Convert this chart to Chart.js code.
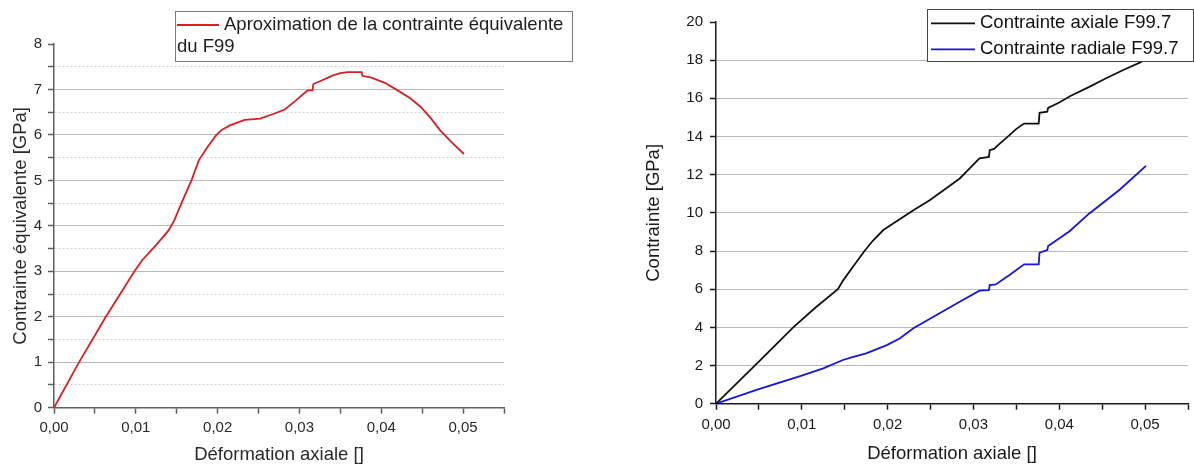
<!DOCTYPE html>
<html>
<head>
<meta charset="utf-8">
<title>Contrainte / déformation axiale</title>
<script src="https://cdn.jsdelivr.net/npm/chart.js@4/dist/chart.umd.min.js"></script>
<style>
  html, body { margin: 0; padding: 0; background: #fff; }
  .panel { position: absolute; top: 0; }
  #pLeft { left: 0; }
  #pRight { left: 600px; }
</style>
</head>
<body>
<div class="panel" id="pLeft"><canvas id="chartEq" width="600" height="466"></canvas></div>
<div class="panel" id="pRight"><canvas id="chartAxRad" width="594" height="466"></canvas></div>
<script>
// ---- data ----

// left: equivalent stress vs axial strain
const strainEq = [0, 0.003, 0.0063, 0.0098, 0.0108, 0.0125, 0.014, 0.0147, 0.0157, 0.0168,
  0.0177, 0.0187, 0.0198, 0.0205, 0.0215, 0.0233, 0.0252, 0.0268, 0.0282, 0.0295,
  0.0308, 0.031, 0.0316, 0.0317, 0.0325, 0.0341, 0.035, 0.0359, 0.0376, 0.0377,
  0.0388, 0.0405, 0.042, 0.0435, 0.0448, 0.046, 0.0472, 0.0485, 0.0501]
const stressEq = [0, 0.98, 1.99, 2.99, 3.25, 3.58, 3.9, 4.12, 4.55, 5.0,
  5.44, 5.72, 5.99, 6.11, 6.21, 6.33, 6.36, 6.46, 6.56, 6.75,
  6.95, 6.98, 6.98, 7.12, 7.18, 7.31, 7.36, 7.38, 7.38, 7.3,
  7.26, 7.14, 6.98, 6.81, 6.62, 6.38, 6.1, 5.86, 5.58]

// right: axial stress
const strainAx = [0, 0.0049, 0.009, 0.0115, 0.0142, 0.0148, 0.016, 0.0173, 0.0183, 0.0195,
  0.021, 0.023, 0.0249, 0.0268, 0.0284, 0.0295, 0.0307, 0.0318, 0.0319, 0.0324,
  0.033, 0.0342, 0.035, 0.0359, 0.0376, 0.0377, 0.0386, 0.0387, 0.04, 0.0413,
  0.0435, 0.0454, 0.0474, 0.0495, 0.05]
const stressAx = [0, 2.17, 4.0, 5.0, 6.0, 6.45, 7.2, 8.0, 8.55, 9.1,
  9.55, 10.14, 10.66, 11.28, 11.8, 12.3, 12.85, 12.93, 13.28, 13.35,
  13.6, 14.07, 14.4, 14.68, 14.68, 15.24, 15.3, 15.5, 15.78, 16.12,
  16.6, 17.04, 17.47, 17.9, 18.02]

// right: radial stress
const strainRad = [0, 0.0049, 0.0098, 0.0125, 0.0148, 0.016, 0.0175, 0.0199, 0.0214, 0.023,
  0.0257, 0.0284, 0.0307, 0.0318, 0.0319, 0.0326, 0.0342, 0.0359, 0.0376, 0.0377,
  0.0386, 0.0387, 0.0412, 0.0435, 0.047, 0.0501]
const stressRad = [0, 0.75, 1.45, 1.85, 2.29, 2.45, 2.64, 3.07, 3.42, 3.95,
  4.65, 5.34, 5.92, 5.95, 6.21, 6.25, 6.74, 7.3, 7.3, 7.91,
  8.05, 8.26, 9.04, 9.97, 11.2, 12.46]

// legend / axis texts
const labelEq = ['Aproximation de la contrainte équivalente', 'du F99']
const labelAx = ['Contrainte axiale F99.7']
const labelRad = ['Contrainte radiale F99.7']
const xTitle = 'Déformation axiale []'
const yTitleEq = 'Contrainte équivalente [GPa]'
const yTitleAxRad = 'Contrainte [GPa]'

const FONT = '"Liberation Sans", Arial, sans-serif'
Chart.defaults.font.family = FONT

const toPoints = (xs, ys) => xs.map((x, i) => ({ x, y: ys[i] }))

// "0,01" style labels on every second tick only
const fmtStrain = (v) => {
  const k = Math.round(v * 1000)
  return k % 10 === 0 ? (k / 1000).toFixed(2).replace('.', ',') : ''
}

// legend drawn as a framed box, like the Origin export
const boxLegend = {
  id: 'boxLegend',
  afterDraw (chart, args, o) {
    const { ctx } = chart
    ctx.save()
    ctx.fillStyle = '#fff'
    ctx.fillRect(o.x, o.y, o.w, o.h)
    ctx.strokeStyle = o.borderColor
    ctx.lineWidth = 1
    ctx.strokeRect(o.x + 0.5, o.y + 0.5, o.w, o.h)
    ctx.font = o.font
    ctx.textBaseline = 'middle'
    ctx.fillStyle = o.textColor
    let y = o.firstY
    chart.data.datasets.forEach(ds => {
      const lines = Array.isArray(ds.label) ? ds.label : [ds.label]
      ctx.strokeStyle = ds.borderColor
      ctx.lineWidth = 1.8
      ctx.beginPath()
      ctx.moveTo(o.x + o.sampleFrom, y)
      ctx.lineTo(o.x + o.sampleTo, y)
      ctx.stroke()
      lines.forEach((t, i) => {
        ctx.fillText(t, i === 0 ? o.x + o.textX : o.x + o.wrapX, y)
        y += i < lines.length - 1 ? o.wrapGap : o.rowGap
      })
    })
    ctx.restore()
  }
}

/**
 * one Origin-like panel
 */
function makeChart (canvasId, datasets, cfg) {
  const ctx = document.getElementById(canvasId).getContext('2d')
  const hidden = 'rgba(0,0,0,0)'
  return new Chart(ctx, {
    type: 'scatter',
    data: { datasets },
    plugins: [boxLegend],
    options: {
      responsive: false,
      animation: false,
      devicePixelRatio: 1,
      layout: { padding: cfg.padding },
      plugins: {
        legend: { display: false },
        tooltip: { enabled: false },
        boxLegend: cfg.legend
      },
      scales: {
        x: {
          type: 'linear',
          min: 0,
          max: 0.055,
          afterFit: (s) => { s.height = cfg.xAxisHeight },
          ticks: {
            stepSize: 0.005,
            autoSkip: false,
            maxRotation: 0,
            padding: cfg.xTickPad,
            color: cfg.textColor,
            font: { size: 15 },
            callback: fmtStrain
          },
          grid: {
            drawOnChartArea: false,
            tickLength: 6,
            tickWidth: 1.5,
            tickColor: cfg.axisColor
          },
          border: { color: cfg.axisColor, width: 1.5 },
          title: {
            display: true,
            text: xTitle,
            color: cfg.textColor,
            font: { size: 18.5 },
            padding: { top: 0, bottom: cfg.xTitlePad }
          }
        },
        y: {
          min: 0,
          max: cfg.yMax,
          afterFit: (s) => { s.width = cfg.yAxisWidth },
          ticks: {
            stepSize: cfg.yStep,
            padding: cfg.yTickPad,
            color: cfg.textColor,
            font: { size: 15 },
            callback: (v) => (v % cfg.yMajor === 0 ? String(v) : '')
          },
          grid: {
            color: (c) => {
              const v = c.tick ? c.tick.value : null
              if (v == null || v === 0 || v === cfg.yMax) return hidden
              return v % cfg.yMajor === 0 ? '#b9b9b9' : '#d2d2d2'
            },
            lineWidth: 1,
            tickLength: 6,
            tickWidth: 1.5,
            tickColor: cfg.axisColor
          },
          border: {
            color: cfg.axisColor,
            width: 1.5,
            dash: (c) => (c.tick && c.tick.value % cfg.yMajor !== 0 ? [2, 2] : [])
          },
          title: {
            display: true,
            text: cfg.yTitle,
            color: cfg.textColor,
            font: { size: 18.5 },
            padding: { top: cfg.yTitlePad, bottom: 0 }
          }
        }
      }
    }
  })
}

const lineStyle = { showLine: true, pointRadius: 0, borderWidth: 1.8, tension: 0 }

// ---- left panel ----
makeChart('chartEq', [
  { ...lineStyle, label: labelEq, data: toPoints(strainEq, stressEq), borderColor: '#dc1e1e' }
], {
  padding: { left: 0, right: 96, top: 44, bottom: 0 },
  xAxisHeight: 58.3,
  yAxisWidth: 54,
  yMax: 8,
  yStep: 0.5,
  yMajor: 1,
  xTickPad: 5,
  yTickPad: 6,
  xTitlePad: 0,
  yTitlePad: 9.6,
  yTitle: yTitleEq,
  axisColor: '#5f5f5f',
  textColor: '#2a2a2a',
  legend: {
    x: 175, y: 11, w: 397, h: 50,
    sampleFrom: 2, sampleTo: 44, textX: 49, wrapX: 2,
    firstY: 25, wrapGap: 21.7, rowGap: 26,
    font: '18.5px ' + FONT, textColor: '#1e1e1e', borderColor: '#7a7a7a'
  }
})

// ---- right panel ----
makeChart('chartAxRad', [
  { ...lineStyle, label: labelAx, data: toPoints(strainAx, stressAx), borderColor: '#111111' },
  { ...lineStyle, label: labelRad, data: toPoints(strainRad, stressRad), borderColor: '#1414e6' }
], {
  padding: { left: 0, right: 5, top: 22, bottom: 0 },
  xAxisHeight: 62.3,
  yAxisWidth: 116,
  yMax: 20,
  yStep: 1,
  yMajor: 2,
  xTickPad: 6,
  yTickPad: 7,
  xTitlePad: 1,
  yTitlePad: 42.8,
  yTitle: yTitleAxRad,
  axisColor: '#1a1a1a',
  textColor: '#1a1a1a',
  legend: {
    x: 327, y: 9, w: 266, h: 52,
    sampleFrom: 4, sampleTo: 48, textX: 53, wrapX: 4,
    firstY: 23.3, wrapGap: 21.7, rowGap: 26,
    font: '18.5px ' + FONT, textColor: '#111', borderColor: '#444'
  }
})
</script>
</body>
</html>
